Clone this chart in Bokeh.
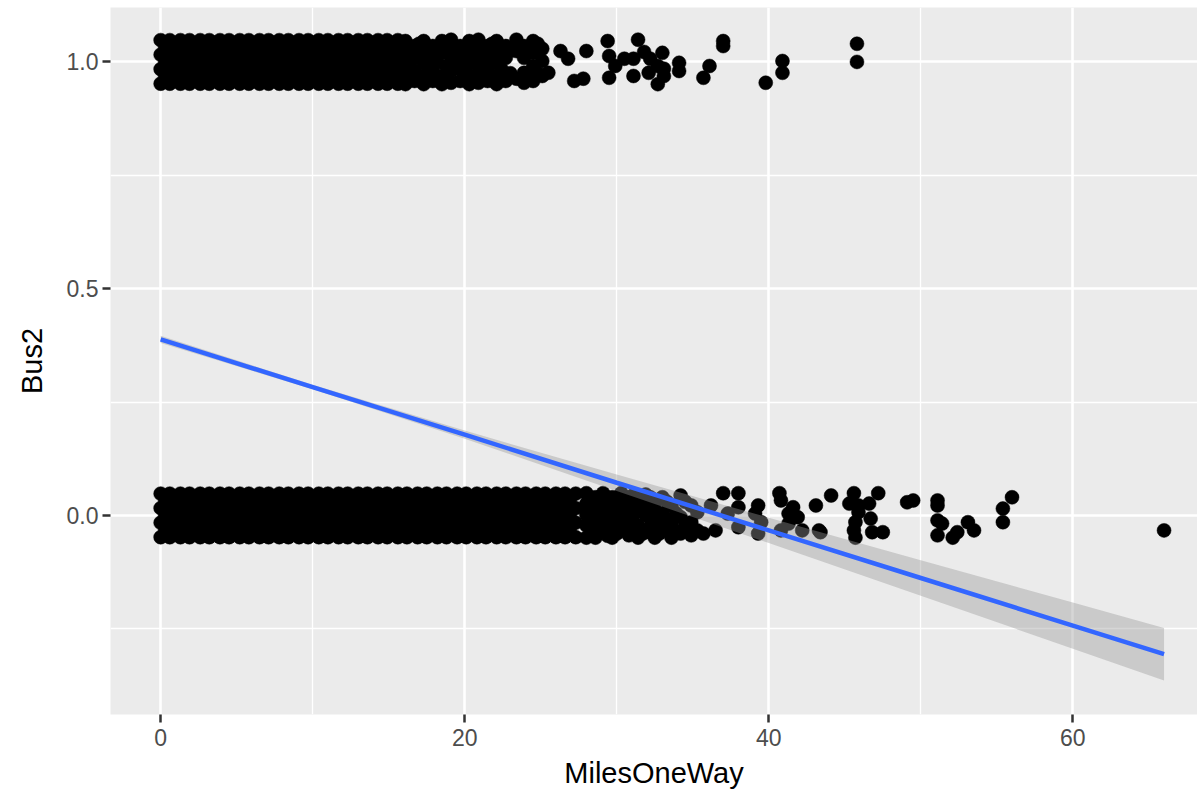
from bokeh.plotting import figure
from bokeh.models import Range1d, FixedTicker, NumeralTickFormatter
from bokeh.embed import file_html
from bokeh.resources import INLINE

# ---- data -------------------------------------------------------------
# Solid cores of the jittered scatter: miles along rows at fixed jitter levels
upper_miles_a = [0.0, 0.6, 1.3, 1.9, 2.6, 3.2, 3.9, 4.5, 5.2, 5.8, 6.5, 7.1, 7.8,
                 8.4, 9.1, 9.7, 10.4, 11.0, 11.7, 12.3, 13.0, 13.6, 14.3, 14.9, 15.6]
upper_miles_b = [0.3, 0.9, 1.6, 2.2, 2.9, 3.5, 4.2, 4.8, 5.5, 6.1, 6.8, 7.4, 8.1,
                 8.7, 9.4, 10.0, 10.7, 11.3, 12.0, 12.6, 13.3, 13.9, 14.6, 15.2, 15.9]
lower_miles_a = [0.0, 0.6, 1.3, 1.9, 2.6, 3.2, 3.9, 4.5, 5.2, 5.8, 6.5, 7.1, 7.8,
                 8.4, 9.1, 9.7, 10.4, 11.0, 11.7, 12.3, 13.0, 13.6, 14.3, 14.9, 15.6,
                 16.2, 16.9, 17.5, 18.2, 18.8, 19.5, 20.1, 20.8, 21.4, 22.1, 22.7,
                 23.4, 24.0, 24.7, 25.3, 26.0, 26.6, 27.3]
lower_miles_b = [0.3, 0.9, 1.6, 2.2, 2.9, 3.5, 4.2, 4.8, 5.5, 6.1, 6.8, 7.4, 8.1,
                 8.7, 9.4, 10.0, 10.7, 11.3, 12.0, 12.6, 13.3, 13.9, 14.6, 15.2, 15.9,
                 16.5, 17.2, 17.8, 18.5, 19.1, 19.8, 20.4, 21.1, 21.7, 22.4, 23.0,
                 23.7, 24.3, 25.0, 25.6, 26.3, 26.9]
jitter_a = [0.048, 0.016, -0.016, -0.048]
jitter_b = [0.032, 0.0, -0.032]

# Remaining individual observations (MilesOneWay, jittered Bus2)
upper_extra = [
    (16.1, 1.046), (16.1, 1.020), (16.1, 0.996), (16.1, 0.969), (16.1, 0.951),
    (16.4, 1.000), (17.0, 1.040), (17.6, 0.985), (18.2, 1.000), (18.8, 0.990),
    (16.7, 1.035), (16.7, 1.009), (16.7, 0.980), (16.7, 0.958),
    (17.3, 1.046), (17.3, 1.024), (17.3, 0.998), (17.3, 0.969), (17.3, 0.951),
    (17.9, 1.035), (17.9, 1.009), (17.9, 0.985), (17.9, 0.958),
    (18.5, 1.046), (18.5, 1.020), (18.5, 0.969), (18.5, 0.951),
    (19.1, 1.049), (19.1, 1.029), (19.1, 1.002), (19.1, 0.980), (19.1, 0.954),
    (19.4, 1.020), (20.0, 0.975), (20.6, 1.030), (21.2, 0.990), (21.8, 1.040),
    (19.7, 1.035), (19.7, 1.009), (19.7, 0.985), (19.7, 0.958),
    (20.3, 1.046), (20.3, 1.020), (20.3, 0.996), (20.3, 0.969), (20.3, 0.951),
    (20.9, 1.049), (20.9, 1.029), (20.9, 1.002), (20.9, 0.976), (20.9, 0.954),
    (21.5, 1.035), (21.5, 1.013), (21.5, 0.985), (21.5, 0.958), (21.8, 0.965),
    (22.1, 1.046), (22.1, 1.020), (22.1, 0.998), (22.1, 0.969), (22.1, 0.951),
    (22.4, 0.985), (23.0, 1.025), (23.0, 0.975), (24.2, 0.965), (24.8, 1.040),
    (24.8, 0.975),
    (22.7, 1.035), (22.7, 1.009), (22.7, 0.958),
    (23.4, 1.049), (23.4, 1.024), (23.4, 0.963),
    (23.9, 1.035), (23.9, 1.009), (23.9, 0.976), (23.9, 0.954),
    (24.5, 1.046), (24.5, 1.020), (24.5, 0.991), (24.5, 0.958),
    (25.1, 1.029), (25.1, 1.002), (25.1, 0.969), (25.5, 0.976),
    (26.3, 1.024), (26.8, 1.007), (27.2, 0.958), (27.8, 0.963), (28.0, 1.024),
    (29.4, 1.046), (29.5, 1.013), (29.9, 0.991), (29.5, 0.965), (30.5, 1.007),
    (31.4, 1.049), (31.8, 1.022), (31.1, 1.007), (31.1, 0.969), (32.2, 1.007),
    (33.0, 1.020), (32.7, 0.991), (33.1, 0.985), (32.1, 0.976), (32.7, 0.951),
    (33.1, 0.969), (34.1, 0.998), (34.1, 0.980), (35.7, 0.965), (36.1, 0.991),
    (37.0, 1.046), (37.0, 1.035), (39.8, 0.954), (40.9, 1.002), (40.9, 0.976),
    (45.8, 1.040), (45.8, 1.000),
]
lower_extra = [
    (28.0, 0.049), (28.0, 0.026), (28.0, 0.002), (28.0, -0.022), (28.0, -0.049),
    (28.3, 0.037), (28.3, -0.007), (28.3, -0.040),
    (28.6, 0.040), (28.6, 0.015), (28.6, -0.033), (28.6, -0.049),
    (28.9, 0.007), (28.9, -0.020),
    (29.1, 0.049), (29.1, 0.026), (29.1, -0.011), (29.1, -0.037),
    (29.4, 0.035), (29.4, -0.005), (29.4, -0.045),
    (29.7, 0.040), (29.7, 0.011), (29.7, -0.022), (29.7, -0.049),
    (30.0, 0.025), (30.0, -0.010), (30.0, -0.040),
    (30.3, 0.049), (30.3, 0.004), (30.3, -0.033),
    (30.6, 0.040), (30.6, 0.015), (30.6, -0.025),
    (30.8, 0.033), (30.8, -0.011), (30.8, -0.044),
    (31.1, 0.045), (31.1, 0.002), (31.1, -0.035),
    (31.4, 0.018), (31.4, -0.022), (31.4, -0.049),
    (31.7, 0.025), (31.7, -0.040),
    (31.9, 0.046), (31.9, 0.000), (31.9, -0.037),
    (32.2, 0.040), (32.2, 0.010), (32.2, -0.025),
    (32.5, 0.026), (32.5, -0.015), (32.5, -0.049),
    (32.8, 0.000), (32.8, -0.040),
    (33.0, 0.040), (33.0, 0.004), (33.0, -0.033),
    (33.3, 0.030), (33.3, -0.010),
    (33.6, 0.022), (33.6, -0.022), (33.6, -0.049),
    (33.9, 0.005), (33.9, -0.035),
    (34.2, 0.044), (34.2, -0.004), (34.2, -0.040),
    (34.5, 0.030), (34.5, -0.025),
    (34.9, 0.022), (34.9, -0.015), (34.9, -0.044),
    (35.3, 0.007), (35.3, -0.033),
    (35.7, -0.040), (36.2, 0.022), (36.5, -0.033), (37.0, 0.049), (37.3, 0.004),
    (38.0, 0.049), (38.0, 0.018), (38.0, -0.026), (39.1, 0.004), (39.3, 0.022),
    (39.3, -0.040), (39.5, -0.015),
    (40.7, 0.049), (40.8, 0.033), (40.8, -0.033), (41.3, 0.004), (41.3, -0.018),
    (41.6, 0.018), (41.9, -0.004), (42.2, -0.033),
    (43.1, 0.022), (43.3, -0.033), (43.4, -0.037), (44.1, 0.044),
    (45.6, 0.049), (45.3, 0.026), (45.9, 0.022), (46.6, 0.026), (47.2, 0.049),
    (45.9, 0.007), (45.7, -0.015), (46.7, -0.007), (45.6, -0.033), (45.7, -0.049),
    (46.8, -0.037), (47.5, -0.037),
    (49.1, 0.029), (49.5, 0.033),
    (51.1, 0.033), (51.1, 0.022), (51.1, -0.011), (51.4, -0.018), (51.1, -0.044),
    (52.1, -0.049), (52.4, -0.037), (53.1, -0.015), (53.5, -0.033),
    (55.4, 0.015), (56.0, 0.040), (55.4, -0.015),
    (66.0, -0.033),
]

# Linear fit of Bus2 on MilesOneWay with its 95% confidence band
fit_miles = [0, 10, 20, 30, 40, 50, 60, 66]
fit_bus2 = [0.388, 0.283, 0.178, 0.072, -0.033, -0.138, -0.243, -0.306]
fit_half = [0.008, 0.005, 0.009, 0.018, 0.028, 0.039, 0.051, 0.058]

x_ticks = [0, 20, 40, 60]
x_minor = [10, 30, 50]
y_ticks = [0.0, 0.5, 1.0]
y_minor = [-0.25, 0.25, 0.75]

# ---- assemble points ---------------------------------------------------
px, py = [], []
for base, miles_a, miles_b in ((1.0, upper_miles_a, upper_miles_b),
                               (0.0, lower_miles_a, lower_miles_b)):
    for j in jitter_a:
        for m in miles_a:
            px.append(m)
            py.append(base + j)
    for j in jitter_b:
        for m in miles_b:
            px.append(m)
            py.append(base + j)
for m, b in upper_extra + lower_extra:
    px.append(m)
    py.append(b)

fit_lo = [v - h for v, h in zip(fit_bus2, fit_half)]
fit_hi = [v + h for v, h in zip(fit_bus2, fit_half)]

# ---- figure ------------------------------------------------------------
FONT = "Liberation Sans"
p = figure(width=1197, height=794, output_backend="svg", toolbar_location=None,
           x_range=Range1d(-3.3, 68.2), y_range=Range1d(-0.439, 1.12),
           min_border_left=110, min_border_right=0, min_border_top=7,
           min_border_bottom=80)
p.background_fill_color = "#ebebeb"
p.border_fill_color = "white"
p.outline_line_color = None

p.xaxis.ticker = FixedTicker(ticks=x_ticks, minor_ticks=x_minor)
p.yaxis.ticker = FixedTicker(ticks=y_ticks, minor_ticks=y_minor)
p.yaxis.formatter = NumeralTickFormatter(format="0.0")
p.xaxis.axis_label = "MilesOneWay"
p.yaxis.axis_label = "Bus2"

for ax in (p.xaxis, p.yaxis):
    ax.axis_line_color = None
    ax.major_tick_line_color = "#333333"
    ax.major_tick_line_width = 2.5
    ax.major_tick_out = 8
    ax.major_tick_in = 0
    ax.minor_tick_line_color = None
    ax.major_label_text_font = FONT
    ax.major_label_text_font_size = "23px"
    ax.major_label_text_color = "#4d4d4d"
    ax.axis_label_text_font = FONT
    ax.axis_label_text_font_size = "29px"
    ax.axis_label_text_font_style = "normal"
    ax.axis_label_text_color = "black"
p.xaxis.major_label_standoff = 6
p.xaxis.axis_label_standoff = 8
p.yaxis.major_label_standoff = 4
p.yaxis.axis_label_standoff = 16

for g in (p.xgrid, p.ygrid):
    g.grid_line_color = "white"
    g.grid_line_width = 2.6
    g.minor_grid_line_color = "white"
    g.minor_grid_line_width = 1.3

p.scatter(px, py, marker="circle", size=14, fill_color="black",
          line_color="black", line_width=0.5)
p.varea(x=fit_miles, y1=fit_lo, y2=fit_hi, fill_color="#999999", fill_alpha=0.4)
p.line(fit_miles, fit_bus2, line_color="#3366FF", line_width=4.5)

open("out.html", "w").write(file_html(p, INLINE))
